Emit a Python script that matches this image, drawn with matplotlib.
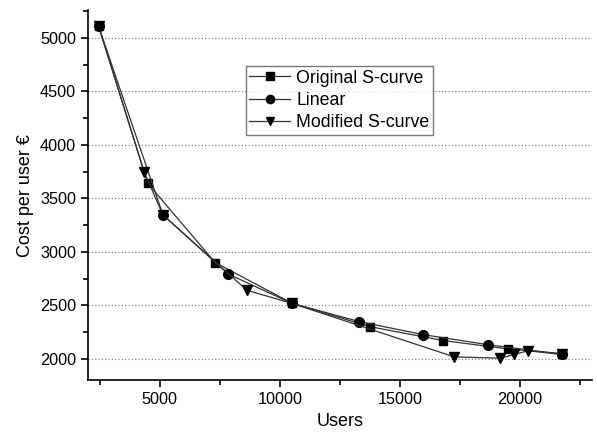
import matplotlib.pyplot as plt
from matplotlib.ticker import MultipleLocator

plt.rcParams['font.family'] = ['Liberation Sans', 'DejaVu Sans']

# data
orig_x = [2450, 4500, 7300, 10500, 13750, 16800, 19500, 21750]
orig_y = [5110, 3640, 2900, 2520, 2300, 2170, 2092, 2048]

lin_x = [2450, 5130, 7850, 10500, 13300, 15950, 18650, 21750]
lin_y = [5110, 3345, 2792, 2518, 2348, 2226, 2132, 2042]

mod_x = [2450, 4340, 5130, 8630, 10500, 17250, 19180, 19750, 20330, 21750]
mod_y = [5110, 3750, 3345, 2640, 2518, 2018, 2005, 2040, 2075, 2040]

fig = plt.figure(figsize=(5.97, 4.40), dpi=100)
ax = fig.add_axes([0.147, 0.136, 0.845, 0.841])

lc = '#333333'
ax.plot(orig_x, orig_y, '-', color=lc, lw=0.9, marker='s', ms=6,
        mfc='black', mec='black', label='Original S-curve')
ax.plot(lin_x, lin_y, '-', color=lc, lw=0.9, marker='o', ms=7,
        mfc='black', mec='black', label='Linear')
ax.plot(mod_x, mod_y, '-', color=lc, lw=0.9, marker='v', ms=7.5,
        mfc='black', mec='black', label='Modified S-curve')

ax.set_xlim(2000, 23000)
ax.set_ylim(1800, 5260)
ax.xaxis.set_minor_locator(MultipleLocator(2500))
ax.yaxis.set_minor_locator(MultipleLocator(250))
ax.set_yticks([2000, 2500, 3000, 3500, 4000, 4500, 5000])
ax.set_xticks([5000, 10000, 15000, 20000])

ax.spines['top'].set_visible(False)
ax.spines['right'].set_visible(False)
ax.spines['left'].set_linewidth(1.2)
ax.spines['bottom'].set_linewidth(1.2)
ax.tick_params(which='major', direction='out', length=5, width=1.2, labelsize=11.7)
ax.tick_params(which='minor', direction='out', length=3.5, width=1.2)

ax.yaxis.grid(True, which='major', linestyle=(0, (1, 2)), color='#777777', lw=0.8)
ax.set_axisbelow(True)

ax.set_xlabel('Users', fontsize=13)
ax.set_ylabel('Cost per user €', fontsize=13)

leg = ax.legend(loc='upper left', bbox_to_anchor=(0.313, 0.849), fontsize=12.8,
                frameon=True, fancybox=False, edgecolor='#555555',
                handlelength=2.3, handletextpad=0.35, borderpad=0.2,
                labelspacing=0.3, borderaxespad=0, markerscale=0.85)
leg.get_frame().set_linewidth(1.0)

fig.savefig('out.png', dpi=100)
